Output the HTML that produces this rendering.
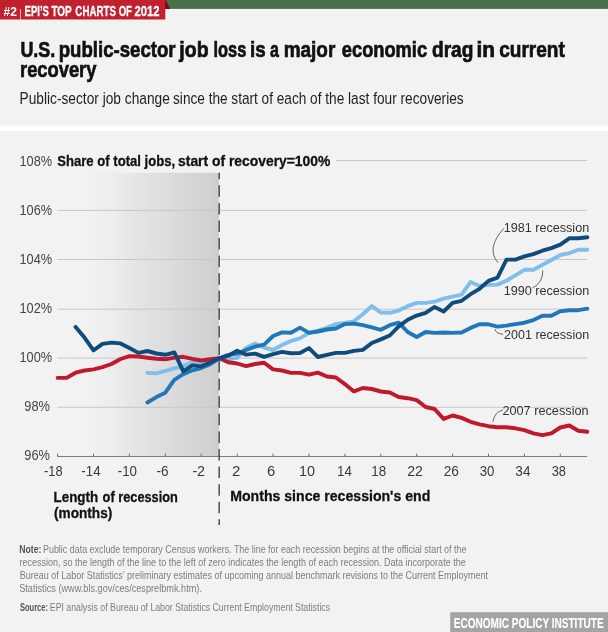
<!DOCTYPE html>
<html><head><meta charset="utf-8"><title>EPI chart</title>
<style>
html,body{margin:0;padding:0;background:#f2f2f2;}
body{width:608px;height:632px;overflow:hidden;font-family:"Liberation Sans",sans-serif;}
svg{display:block;font-family:"Liberation Sans",sans-serif;will-change:transform;}
.b{font-weight:bold;}
</style></head><body>
<svg width="608" height="632" viewBox="0 0 608 632">
<defs>
<linearGradient id="sh" x1="0" y1="0" x2="1" y2="0">
<stop offset="0" stop-color="#cdced0" stop-opacity="0"/>
<stop offset="0.18" stop-color="#cdced0" stop-opacity="0.01"/>
<stop offset="0.32" stop-color="#cdced0" stop-opacity="0.12"/>
<stop offset="0.5" stop-color="#cdced0" stop-opacity="0.38"/>
<stop offset="0.7" stop-color="#cdced0" stop-opacity="0.63"/>
<stop offset="1" stop-color="#cdced0" stop-opacity="1"/>
</linearGradient>
</defs>
<rect x="0" y="0" width="608" height="632" fill="#f2f2f2"/>
<!-- top bar -->
<rect x="165" y="0" width="443" height="8.9" fill="#47704b"/>
<polygon points="165,0 165.6,0 170.2,9.1 165,9.1" fill="#7d0814"/>
<rect x="0" y="0" width="165.3" height="19.5" fill="#c1202f"/>
<rect x="20.1" y="9.2" width="0.9" height="10.5" fill="#efc3c8"/>
<!-- titles -->
<!-- white band -->
<rect x="0" y="125.7" width="608" height="5.4" fill="#ffffff"/>
<!-- shading -->
<rect x="57.4" y="172.8" width="161.6" height="283.4" fill="url(#sh)"/>

<line x1="336.0" y1="160.5" x2="587.2" y2="160.5" stroke="#c8c8c8" stroke-width="1"/>
<line x1="57.4" y1="210.4" x2="587.2" y2="210.4" stroke="#c8c8c8" stroke-width="1"/>
<line x1="57.4" y1="259.5" x2="587.2" y2="259.5" stroke="#c8c8c8" stroke-width="1"/>
<line x1="57.4" y1="309.2" x2="587.2" y2="309.2" stroke="#c8c8c8" stroke-width="1"/>
<line x1="57.4" y1="358.1" x2="587.2" y2="358.1" stroke="#c8c8c8" stroke-width="1"/>
<line x1="57.4" y1="407.3" x2="587.2" y2="407.3" stroke="#c8c8c8" stroke-width="1"/>
<line x1="57.4" y1="456.5" x2="587.2" y2="456.5" stroke="#7c7c7c" stroke-width="1"/>
<line x1="57.6" y1="453.7" x2="57.6" y2="456.5" stroke="#6a6a6a" stroke-width="1"/>
<line x1="93.5" y1="453.7" x2="93.5" y2="456.5" stroke="#6a6a6a" stroke-width="1"/>
<line x1="129.4" y1="453.7" x2="129.4" y2="456.5" stroke="#6a6a6a" stroke-width="1"/>
<line x1="165.3" y1="453.7" x2="165.3" y2="456.5" stroke="#6a6a6a" stroke-width="1"/>
<line x1="201.2" y1="453.7" x2="201.2" y2="456.5" stroke="#6a6a6a" stroke-width="1"/>
<line x1="237.2" y1="453.7" x2="237.2" y2="456.5" stroke="#6a6a6a" stroke-width="1"/>
<line x1="273.1" y1="453.7" x2="273.1" y2="456.5" stroke="#6a6a6a" stroke-width="1"/>
<line x1="309.0" y1="453.7" x2="309.0" y2="456.5" stroke="#6a6a6a" stroke-width="1"/>
<line x1="344.9" y1="453.7" x2="344.9" y2="456.5" stroke="#6a6a6a" stroke-width="1"/>
<line x1="380.8" y1="453.7" x2="380.8" y2="456.5" stroke="#6a6a6a" stroke-width="1"/>
<line x1="416.7" y1="453.7" x2="416.7" y2="456.5" stroke="#6a6a6a" stroke-width="1"/>
<line x1="452.6" y1="453.7" x2="452.6" y2="456.5" stroke="#6a6a6a" stroke-width="1"/>
<line x1="488.5" y1="453.7" x2="488.5" y2="456.5" stroke="#6a6a6a" stroke-width="1"/>
<line x1="524.4" y1="453.7" x2="524.4" y2="456.5" stroke="#6a6a6a" stroke-width="1"/>
<line x1="560.3" y1="453.7" x2="560.3" y2="456.5" stroke="#6a6a6a" stroke-width="1"/>
<line x1="219.2" y1="172.7" x2="219.2" y2="525" stroke="#58585a" stroke-width="1.6" stroke-dasharray="11.5 6.08" stroke-dashoffset="4.98"/>
<polyline points="147.4,372.9 156.4,373.3 165.3,370.8 174.3,368.3 183.3,365.9 192.3,362.5 201.2,362.0 210.2,360.5 219.2,358.3 228.2,359.0 237.2,357.9 246.1,348.0 255.1,343.4 264.1,347.5 273.1,350.0 282.0,345.0 291.0,340.9 300.0,338.3 309.0,332.9 317.9,330.7 326.9,327.9 335.9,324.1 344.9,322.9 353.9,321.3 362.8,314.2 371.8,306.0 380.8,312.6 389.8,312.8 398.7,310.5 407.7,306.2 416.7,302.9 425.7,302.9 434.6,301.6 443.6,298.7 452.6,296.7 461.6,294.7 470.6,281.9 479.5,286.0 488.5,284.9 497.5,284.6 506.5,280.7 515.4,275.4 524.4,269.8 533.4,269.8 542.4,264.9 551.3,260.0 560.3,255.0 569.3,253.1 578.3,249.7 587.3,249.7" fill="none" stroke="#7fbfea" stroke-width="3.9" stroke-linejoin="round" stroke-linecap="round"/>
<polyline points="57.6,377.9 66.6,377.9 75.6,372.7 84.5,370.5 93.5,369.4 102.5,367.2 111.5,364.0 120.5,359.0 129.4,356.1 138.4,356.5 147.4,357.7 156.4,358.8 165.3,359.3 174.3,357.6 183.3,356.8 192.3,358.8 201.2,360.5 210.2,359.3 219.2,358.3 228.2,362.3 237.2,363.5 246.1,366.1 255.1,364.0 264.1,362.8 273.1,369.4 282.0,370.5 291.0,372.9 300.0,372.9 309.0,374.7 317.9,372.6 326.9,376.5 335.9,377.5 344.9,384.1 353.9,391.4 362.8,388.0 371.8,389.0 380.8,391.5 389.8,392.5 398.7,397.0 407.7,398.2 416.7,400.1 425.7,407.0 434.6,409.0 443.6,418.9 452.6,415.5 461.6,417.9 470.6,421.8 479.5,424.4 488.5,426.2 497.5,427.3 506.5,427.3 515.4,428.3 524.4,430.2 533.4,433.4 542.4,435.2 551.3,433.4 560.3,427.5 569.3,425.5 578.3,430.8 587.3,431.8" fill="none" stroke="#c0192e" stroke-width="3.9" stroke-linejoin="round" stroke-linecap="round"/>
<polyline points="147.4,402.5 156.4,397.1 165.3,392.7 174.3,379.8 183.3,374.1 192.3,370.3 201.2,368.0 210.2,364.2 219.2,358.3 228.2,354.9 237.2,353.6 246.1,350.0 255.1,346.7 264.1,344.7 273.1,336.0 282.0,332.4 291.0,332.7 300.0,327.6 309.0,332.9 317.9,331.5 326.9,329.5 335.9,328.5 344.9,324.1 353.9,323.6 362.8,325.2 371.8,327.4 380.8,329.8 389.8,325.2 398.7,322.7 407.7,332.0 416.7,337.0 425.7,332.0 434.6,332.9 443.6,332.5 452.6,332.9 461.6,332.5 470.6,327.9 479.5,324.3 488.5,324.3 497.5,326.6 506.5,325.6 515.4,324.1 524.4,322.7 533.4,320.1 542.4,315.8 551.3,315.8 560.3,311.2 569.3,310.2 578.3,310.2 587.3,308.7" fill="none" stroke="#2277b9" stroke-width="3.9" stroke-linejoin="round" stroke-linecap="round"/>
<polyline points="75.6,326.9 84.5,337.6 93.5,350.3 102.5,343.9 111.5,342.6 120.5,343.4 129.4,348.0 138.4,352.9 147.4,351.0 156.4,353.5 165.3,354.8 174.3,352.4 183.3,371.3 192.3,365.4 201.2,366.4 210.2,362.5 219.2,358.3 228.2,355.7 237.2,350.8 246.1,354.6 255.1,353.6 264.1,356.9 273.1,354.1 282.0,351.9 291.0,353.3 300.0,353.0 309.0,348.1 317.9,357.0 326.9,354.8 335.9,352.9 344.9,352.9 353.9,350.9 362.8,349.9 371.8,343.0 380.8,339.4 389.8,335.5 398.7,326.4 407.7,319.7 416.7,315.6 425.7,312.8 434.6,306.9 443.6,311.5 452.6,302.9 461.6,300.8 470.6,294.2 479.5,288.8 488.5,280.9 497.5,277.7 506.5,259.6 515.4,259.6 524.4,256.4 533.4,254.1 542.4,250.7 551.3,248.1 560.3,244.6 569.3,238.3 578.3,238.3 587.3,237.3" fill="none" stroke="#0f4c7c" stroke-width="3.9" stroke-linejoin="round" stroke-linecap="round"/>
<path d="M503.8,228.3 Q485.7,248.3 498,262.8" fill="none" stroke="#444" stroke-width="0.8"/>
<path d="M542.8,270.3 Q543,283 532.3,288" fill="none" stroke="#444" stroke-width="0.8"/>
<path d="M495,329.2 Q495.8,333.9 503.2,334.2" fill="none" stroke="#444" stroke-width="0.8"/>
<path d="M492.9,421.8 Q494.5,412 502.8,410" fill="none" stroke="#444" stroke-width="0.8"/>
<rect x="450.2" y="612.2" width="157.8" height="19.8" fill="#a3a4a6"/>
<text x="3.61" y="15.7" font-size="13.4" class="b" stroke="#ffffff" stroke-width="0" fill="#ffffff" textLength="13.36" lengthAdjust="spacingAndGlyphs">#2</text>
<text x="24.49" y="15.8" font-size="15.3" class="b" stroke="#ffffff" stroke-width="0.3" fill="#ffffff" textLength="24.52" lengthAdjust="spacingAndGlyphs">EPI’S</text>
<text x="51.49" y="15.8" font-size="15.3" class="b" stroke="#ffffff" stroke-width="0.3" fill="#ffffff" textLength="20.21" lengthAdjust="spacingAndGlyphs">TOP</text>
<text x="75.34" y="15.8" font-size="15.3" class="b" stroke="#ffffff" stroke-width="0.3" fill="#ffffff" textLength="40.68" lengthAdjust="spacingAndGlyphs">CHARTS</text>
<text x="118.68" y="15.8" font-size="15.3" class="b" stroke="#ffffff" stroke-width="0.3" fill="#ffffff" textLength="13.28" lengthAdjust="spacingAndGlyphs">OF</text>
<text x="134.45" y="15.8" font-size="15.3" class="b" stroke="#ffffff" stroke-width="0.3" fill="#ffffff" textLength="25.06" lengthAdjust="spacingAndGlyphs">2012</text>
<text x="20.38" y="57.2" font-size="22.6" class="b" stroke="#111111" stroke-width="0.7" fill="#111111" textLength="34.90" lengthAdjust="spacingAndGlyphs">U.S.</text>
<text x="58.72" y="57.2" font-size="22.6" class="b" stroke="#111111" stroke-width="0.7" fill="#111111" textLength="116.83" lengthAdjust="spacingAndGlyphs">public-sector</text>
<text x="179.35" y="57.2" font-size="22.6" class="b" stroke="#111111" stroke-width="0.7" fill="#111111" textLength="29.22" lengthAdjust="spacingAndGlyphs">job</text>
<text x="213.51" y="57.2" font-size="22.6" class="b" stroke="#111111" stroke-width="0.7" fill="#111111" textLength="32.73" lengthAdjust="spacingAndGlyphs">loss</text>
<text x="249.98" y="57.2" font-size="22.6" class="b" stroke="#111111" stroke-width="0.7" fill="#111111" textLength="15.61" lengthAdjust="spacingAndGlyphs">is</text>
<text x="270.10" y="57.2" font-size="22.6" class="b" stroke="#111111" stroke-width="0.7" fill="#111111" textLength="8.89" lengthAdjust="spacingAndGlyphs">a</text>
<text x="283.70" y="57.2" font-size="22.6" class="b" stroke="#111111" stroke-width="0.7" fill="#111111" textLength="51.64" lengthAdjust="spacingAndGlyphs">major</text>
<text x="341.83" y="57.2" font-size="22.6" class="b" stroke="#111111" stroke-width="0.7" fill="#111111" textLength="85.25" lengthAdjust="spacingAndGlyphs">economic</text>
<text x="431.94" y="57.2" font-size="22.6" class="b" stroke="#111111" stroke-width="0.7" fill="#111111" textLength="41.53" lengthAdjust="spacingAndGlyphs">drag</text>
<text x="476.41" y="57.2" font-size="22.6" class="b" stroke="#111111" stroke-width="0.7" fill="#111111" textLength="18.52" lengthAdjust="spacingAndGlyphs">in</text>
<text x="499.17" y="57.2" font-size="22.6" class="b" stroke="#111111" stroke-width="0.7" fill="#111111" textLength="65.64" lengthAdjust="spacingAndGlyphs">current</text>
<text x="20.02" y="77.3" font-size="22.6" class="b" stroke="#111111" stroke-width="0.7" fill="#111111" textLength="76.42" lengthAdjust="spacingAndGlyphs">recovery</text>
<text x="19.56" y="103.6" font-size="17.4" fill="#1f1f1f" textLength="150.25" lengthAdjust="spacingAndGlyphs">Public-sector job change</text>
<text x="173.07" y="103.6" font-size="17.4" fill="#1f1f1f" textLength="148.36" lengthAdjust="spacingAndGlyphs">since the start of each of</text>
<text x="325.22" y="103.6" font-size="17.4" fill="#1f1f1f" textLength="138.46" lengthAdjust="spacingAndGlyphs">the last four recoveries</text>
<text x="19.47" y="165.6" font-size="14.6" fill="#454545" textLength="32.59" lengthAdjust="spacingAndGlyphs">108%</text>
<text x="19.47" y="214.7" font-size="14.6" fill="#454545" textLength="32.59" lengthAdjust="spacingAndGlyphs">106%</text>
<text x="19.47" y="263.8" font-size="14.6" fill="#454545" textLength="32.59" lengthAdjust="spacingAndGlyphs">104%</text>
<text x="19.47" y="312.9" font-size="14.6" fill="#454545" textLength="32.59" lengthAdjust="spacingAndGlyphs">102%</text>
<text x="19.47" y="362.0" font-size="14.6" fill="#454545" textLength="32.59" lengthAdjust="spacingAndGlyphs">100%</text>
<text x="24.35" y="411.1" font-size="14.6" fill="#454545" textLength="25.66" lengthAdjust="spacingAndGlyphs">98%</text>
<text x="24.35" y="460.2" font-size="14.6" fill="#454545" textLength="25.66" lengthAdjust="spacingAndGlyphs">96%</text>
<text x="57.17" y="165.6" font-size="15" class="b" stroke="#111111" stroke-width="0.3" fill="#111111" textLength="118.04" lengthAdjust="spacingAndGlyphs">Share of total jobs,</text>
<text x="178.07" y="165.6" font-size="15" class="b" stroke="#111111" stroke-width="0.3" fill="#111111" textLength="152.28" lengthAdjust="spacingAndGlyphs">start of recovery=100%</text>
<text x="44.09" y="476.2" font-size="14.6" fill="#3a3a3a" textLength="18.61" lengthAdjust="spacingAndGlyphs">-18</text>
<text x="81.36" y="476.2" font-size="14.6" fill="#3a3a3a" textLength="19.21" lengthAdjust="spacingAndGlyphs">-14</text>
<text x="117.78" y="476.2" font-size="14.6" fill="#3a3a3a" textLength="19.26" lengthAdjust="spacingAndGlyphs">-10</text>
<text x="156.42" y="476.2" font-size="14.6" fill="#3a3a3a" textLength="12.05" lengthAdjust="spacingAndGlyphs">-6</text>
<text x="192.39" y="476.2" font-size="14.6" fill="#3a3a3a" textLength="12.69" lengthAdjust="spacingAndGlyphs">-2</text>
<text x="231.95" y="476.2" font-size="14.6" fill="#3a3a3a" textLength="8.36" lengthAdjust="spacingAndGlyphs">2</text>
<text x="266.93" y="476.2" font-size="14.6" fill="#3a3a3a" textLength="8.26" lengthAdjust="spacingAndGlyphs">6</text>
<text x="299.02" y="476.2" font-size="14.6" fill="#3a3a3a" textLength="15.97" lengthAdjust="spacingAndGlyphs">10</text>
<text x="337.09" y="476.2" font-size="14.6" fill="#3a3a3a" textLength="14.82" lengthAdjust="spacingAndGlyphs">14</text>
<text x="371.33" y="476.2" font-size="14.6" fill="#3a3a3a" textLength="14.93" lengthAdjust="spacingAndGlyphs">18</text>
<text x="407.21" y="476.2" font-size="14.6" fill="#3a3a3a" textLength="15.73" lengthAdjust="spacingAndGlyphs">22</text>
<text x="443.69" y="476.2" font-size="14.6" fill="#3a3a3a" textLength="15.22" lengthAdjust="spacingAndGlyphs">26</text>
<text x="479.76" y="476.2" font-size="14.6" fill="#3a3a3a" textLength="14.68" lengthAdjust="spacingAndGlyphs">30</text>
<text x="515.36" y="476.2" font-size="14.6" fill="#3a3a3a" textLength="15.06" lengthAdjust="spacingAndGlyphs">34</text>
<text x="551.77" y="476.2" font-size="14.6" fill="#3a3a3a" textLength="14.20" lengthAdjust="spacingAndGlyphs">38</text>
<text x="503.68" y="232.4" font-size="13.5" fill="#333333" textLength="85.53" lengthAdjust="spacingAndGlyphs">1981 recession</text>
<text x="503.68" y="295.4" font-size="13.5" fill="#333333" textLength="85.53" lengthAdjust="spacingAndGlyphs">1990 recession</text>
<text x="504.01" y="339.1" font-size="13.5" fill="#333333" textLength="85.16" lengthAdjust="spacingAndGlyphs">2001 recession</text>
<text x="502.39" y="414.6" font-size="13.5" fill="#333333" textLength="86.24" lengthAdjust="spacingAndGlyphs">2007 recession</text>
<text x="53.57" y="501.5" font-size="15" class="b" stroke="#111111" stroke-width="0.3" fill="#111111" textLength="44.58" lengthAdjust="spacingAndGlyphs">Length</text>
<text x="102.60" y="501.5" font-size="15" class="b" stroke="#111111" stroke-width="0.3" fill="#111111" textLength="75.25" lengthAdjust="spacingAndGlyphs">of recession</text>
<text x="53.97" y="518.3" font-size="15" class="b" stroke="#111111" stroke-width="0.3" fill="#111111" textLength="58.35" lengthAdjust="spacingAndGlyphs">(months)</text>
<text x="230.23" y="501.3" font-size="15" class="b" stroke="#111111" stroke-width="0.3" fill="#111111" textLength="200.11" lengthAdjust="spacingAndGlyphs">Months since recession's end</text>
<text x="19.34" y="552.6" font-size="10.4" class="b" stroke="#555555" stroke-width="0" fill="#555555" textLength="22.13" lengthAdjust="spacingAndGlyphs">Note:</text>
<text x="43.03" y="552.6" font-size="10.4" fill="#7d7d7d" textLength="423.39" lengthAdjust="spacingAndGlyphs">Public data exclude temporary Census workers. The line for each recession begins at the official start of the</text>
<text x="19.38" y="565.9" font-size="10.4" fill="#7d7d7d" textLength="446.30" lengthAdjust="spacingAndGlyphs">recession, so the length of the line to the left of zero indicates the length of each recession. Data incorporate the</text>
<text x="19.70" y="579.0" font-size="10.4" fill="#7d7d7d" textLength="468.30" lengthAdjust="spacingAndGlyphs">Bureau of Labor Statistics’ preliminary estimates of upcoming annual benchmark revisions to the Current Employment</text>
<text x="19.20" y="592.1" font-size="10.4" fill="#7d7d7d" textLength="182.74" lengthAdjust="spacingAndGlyphs">Statistics (www.bls.gov/ces/cesprelbmk.htm).</text>
<text x="19.95" y="610.7" font-size="10.4" class="b" stroke="#555555" stroke-width="0" fill="#555555" textLength="28.06" lengthAdjust="spacingAndGlyphs">Source:</text>
<text x="49.83" y="610.7" font-size="10.4" fill="#7d7d7d" textLength="280.26" lengthAdjust="spacingAndGlyphs">EPI analysis of Bureau of Labor Statistics Current Employment Statistics</text>
<text x="453.74" y="627.9" font-size="15.5" class="b" stroke="#ffffff" stroke-width="0.15" fill="#ffffff" textLength="149.89" lengthAdjust="spacingAndGlyphs">ECONOMIC POLICY INSTITUTE</text>
</svg></body></html>
